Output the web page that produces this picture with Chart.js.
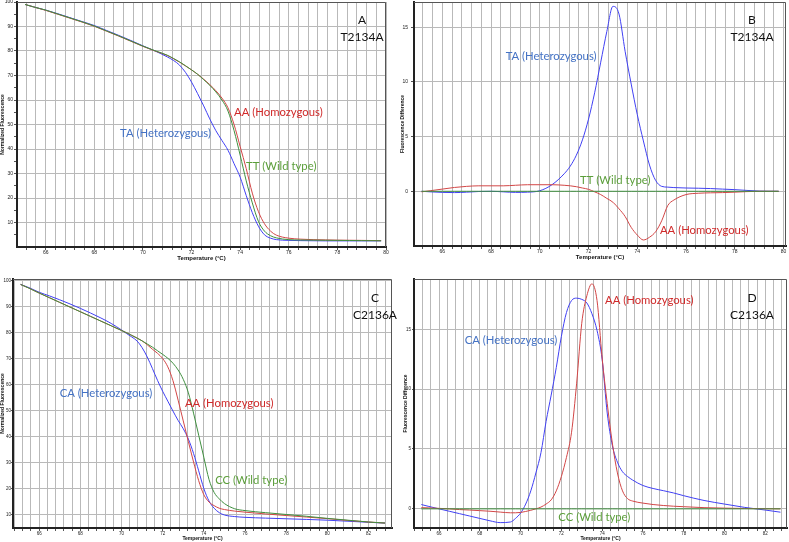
<!DOCTYPE html>
<html><head><meta charset="utf-8">
<script src="https://cdn.jsdelivr.net/npm/chart.js@4"></script>
<style>
html,body{margin:0;padding:0;background:#fff}
body{width:789px;height:542px;overflow:hidden;position:relative}
canvas{position:absolute}
</style></head><body>
<canvas id="cA" width="394" height="272" style="left:0px;top:-4px"></canvas>
<canvas id="cB" width="395" height="272" style="left:394px;top:-4px"></canvas>
<canvas id="cC" width="402" height="269" style="left:0px;top:273px"></canvas>
<canvas id="cD" width="395" height="269" style="left:394px;top:273px"></canvas>
<script>
// ---------- Panel A : T2134A normalized melt curves ----------
const tempA = [65.15,65.5,66,66.5,67,67.5,68,68.5,69,69.5,70,70.5,71,71.25,71.5,71.75,72,72.25,72.5,72.75,73,73.25,73.5,73.75,74,74.25,74.5,74.75,75,75.25,75.5,76,76.5,77,77.5,78,78.5,79,79.8];
const wildA = [99.0,98.0,96.7,95.1,93.5,91.9,90.2,88.2,86.2,84.1,82.0,80.1,78.3,77.0,75.6,74.0,72.3,70.5,68.3,66.0,63.3,60.0,55.5,47.5,37.5,27.0,18.0,10.5,6.5,4.6,3.7,3.0,2.85,2.8,2.75,2.7,2.65,2.6,2.55];
const homA  = [99.0,98.0,96.6,95.0,93.4,91.8,90.1,88.1,86.1,84.0,81.9,80.0,78.2,76.9,75.5,73.9,72.3,70.5,68.5,66.3,63.8,60.8,56.8,50.0,41.0,32.0,22.0,14.5,9.5,6.5,4.8,3.6,3.2,3.0,2.9,2.8,2.75,2.7,2.6];
const hetA  = [99.0,98.0,96.7,95.2,93.6,92.0,90.4,88.4,86.4,84.3,82.1,80.0,77.6,76.2,74.3,71.3,67.3,62.6,57.6,52.3,47.5,43.5,39.5,34.0,28.5,21.0,14.0,8.5,5.0,3.6,3.0,2.7,2.6,2.55,2.5,2.5,2.5,2.5,2.5];

// ---------- Panel B : T2134A difference plot ----------
const tempB = [65.15,65.5,66,66.5,67,67.5,68,68.5,69,69.5,70,70.5,71,71.25,71.5,71.75,72,72.25,72.5,72.75,73,73.25,73.5,73.75,74,74.25,74.5,74.75,75,75.25,75.5,76,76.5,77,77.5,78,78.5,79,79.8];
const wildB = [0,0,0,0,0,0,0,0,0,0,0,0,0,0,0,0,0,0,0,0,0,0,0,0,0,0,0,0,0,0,0,0,0,0,0,0,0,0,0];
const homB  = [-0.05,0.05,0.2,0.35,0.45,0.5,0.5,0.5,0.55,0.6,0.6,0.6,0.55,0.5,0.42,0.3,0.18,-0.05,-0.3,-0.65,-1.0,-1.6,-2.3,-3.3,-4.0,-4.45,-4.2,-3.7,-2.7,-1.3,-0.8,-0.3,-0.18,-0.14,-0.12,-0.08,-0.03,0,0];
const hetB  = [0,-0.05,-0.1,-0.12,-0.08,-0.02,0,-0.05,-0.1,-0.08,0.05,0.6,1.6,2.3,3.3,4.7,6.6,9.0,11.8,14.6,16.9,16.2,12.8,9.8,7.0,4.6,2.4,1.0,0.45,0.38,0.34,0.3,0.28,0.25,0.2,0.15,0.08,0.02,0];

// ---------- Panel C : C2136A normalized melt curves ----------
const tempC = [65.1,65.5,66,66.5,67,67.5,68,68.5,69,69.5,70,70.25,70.5,70.75,71,71.25,71.5,71.75,72,72.25,72.5,72.75,73,73.25,73.5,73.75,74,74.25,74.5,74.75,75,75.5,76,77,78,79,80,81,82,82.8];
const wildC = [98.5,97.1,95.2,93.4,91.6,89.8,88.0,86.2,84.4,82.6,80.8,79.9,78.9,77.9,76.8,75.6,74.4,73.0,71.6,70.1,68.2,65.6,62.0,56.8,49.0,40.5,32.0,23.5,18.5,16.0,14.2,12.2,11.5,10.7,10.0,9.3,8.5,7.8,7.1,6.7];
const homC  = [98.5,97.1,95.2,93.4,91.6,89.8,88.0,86.2,84.4,82.6,80.8,79.9,78.9,77.9,76.8,75.3,73.6,72.0,70.0,66.8,61.5,54.0,46.0,38.0,30.2,23.0,17.6,14.8,13.4,12.4,11.9,11.3,10.9,10.2,9.6,9.0,8.4,7.7,7.1,6.7];
const hetC  = [98.5,97.3,95.5,94.1,92.6,91.0,89.3,87.5,85.6,83.5,81.0,79.6,78.3,76.8,74.2,70.6,66.2,61.6,57.4,53.6,49.8,46.2,43.0,39.0,33.5,26.8,20.0,15.2,12.4,10.7,9.8,9.2,8.9,8.6,8.35,8.1,7.8,7.4,7.0,6.7];

// ---------- Panel D : C2136A difference plot ----------
const tempD = [65.13,65.5,66,66.5,67,67.5,68,68.5,69,69.5,69.75,70,70.25,70.5,70.75,71,71.25,71.5,71.75,72,72.25,72.5,72.75,73,73.25,73.5,73.75,74,74.25,74.5,74.75,75,75.25,75.5,76,76.5,77,77.5,78,79,80,81,82,82.75];
const wildD = [0,0,0,0,0,0,0,0,0,0,0,0,0,0,0,0,0,0,0,0,0,0,0,0,0,0,0,0,0,0,0,0,0,0,0,0,0,0,0,0,0,0,0,0];
const homD  = [0.1,0.08,0.04,0,-0.06,-0.1,-0.15,-0.2,-0.27,-0.33,-0.33,-0.3,-0.22,-0.12,0,0.15,0.4,0.75,1.5,2.7,4.3,6.4,10.5,15.5,17.8,18.8,17.4,12.6,8.8,5.5,3.0,1.5,0.85,0.65,0.48,0.36,0.28,0.22,0.18,0.1,0.06,0.03,0.01,0];
const hetD  = [0.36,0.2,0.0,-0.2,-0.4,-0.6,-0.8,-1.0,-1.15,-1.1,-0.8,-0.35,0.4,1.5,3.0,4.7,7.3,9.5,11.8,14.4,16.4,17.4,17.6,17.5,17.2,16.3,14.9,12.5,8.0,5.3,3.9,3.1,2.7,2.4,1.95,1.7,1.52,1.33,1.1,0.7,0.4,0.12,-0.1,-0.28];

// ---------- tick labels ----------
const yTicksNorm = [10,20,30,40,50,60,70,80,90,100];
const yTicksDiff = [0,5,10,15];
const xTickLabelsA = [66,68,70,72,74,76,78,80];
const xTickLabelsC = [66,68,70,72,74,76,78,80,82];

// ---------- label texts ----------
const notesA = [
  {text:'AA (Homozygous)', x:73.75, y:55.0, c:'red'},
  {text:'TA (Heterozygous)', x:69.06, y:46.3, c:'blue'},
  {text:'TT (Wild type)', x:74.24, y:32.8, c:'green'}];
const notesB = [
  {text:'TA (Heterozygous)', x:68.6, y:12.3, c:'blue'},
  {text:'TT (Wild type)', x:71.65, y:1.0, c:'green'},
  {text:'AA (Homozygous)', x:74.93, y:-3.55, c:'red'}];
const notesC = [
  {text:'CA (Heterozygous)', x:67.0, y:56.5, c:'blue'},
  {text:'AA (Homozygous)', x:73.08, y:52.9, c:'red'},
  {text:'CC (Wild type)', x:74.55, y:23.1, c:'green'}];
const notesD = [
  {text:'CA (Heterozygous)', x:67.26, y:14.1, c:'blue'},
  {text:'AA (Homozygous)', x:74.14, y:17.4, c:'red'},
  {text:'CC (Wild type)', x:71.85, y:-0.75, c:'green'}];

const LINE = {blue:'#4040f4', red:'#d24646', green:'#3f8f3f'};
const TEXT = {blue:'#4472C4', red:'#D02A2A', green:'#5B9E3A'};

function pts(xs, ys){ return xs.map((x,i)=>({x:x, y:ys[i]})); }

const panelPlugin = {
  id:'panelDeco',
  beforeDatasetsDraw(chart, args, o){
    const a = chart.chartArea, ctx = chart.ctx;
    ctx.save();
    ctx.strokeStyle = '#555'; ctx.lineWidth = 1;
    ctx.beginPath();
    ctx.moveTo(a.left, a.top + 0.5); ctx.lineTo(a.right - 0.5, a.top + 0.5); ctx.lineTo(a.right - 0.5, a.bottom);
    ctx.stroke();
    ctx.restore();
  },
  afterDatasetsDraw(chart, args, o){
    const ctx = chart.ctx, xs = chart.scales.x, ys = chart.scales.y;
    ctx.save();
    ctx.textBaseline = 'middle';
    ctx.font = '11.3px Lato';
    ctx.textAlign = 'left';
    for (const n of o.notes) {
      ctx.fillStyle = TEXT[n.c];
      ctx.fillText(n.text, xs.getPixelForValue(n.x), ys.getPixelForValue(n.y));
    }
    ctx.fillStyle = '#111';
    ctx.textAlign = 'center';
    ctx.font = '12px Lato';
    ctx.fillText(o.id, o.idX, o.idY);
    ctx.fillText(o.gene, o.idX, o.idY + 17);
    ctx.restore();
  }
};

function makePanel(canvasId, p){
  const isMajorY = v => p.yLabels.includes(v);
  const majorX = v => p.xLabels.some(t => Math.abs(t - v) < 1e-6);
  new Chart(document.getElementById(canvasId), {
    type:'line',
    data:{ datasets: p.series.map(s => ({
      data: pts(p.temps, s.v), borderColor: LINE[s.c], borderWidth: 1, pointRadius: 0,
      cubicInterpolationMode: 'monotone', fill: false })) },
    options:{
      responsive:false, animation:false, devicePixelRatio:1,
      layout:{ padding:{ top:6, left:0, right:p.padR, bottom:0 } },
      plugins:{ legend:{display:false}, tooltip:{enabled:false},
        panelDeco:{ notes:p.notes, id:p.id, gene:p.gene, idX:p.idX, idY:p.idY } },
      scales:{
        x:{ type:'linear', min:p.xMin, max:p.xMax,
          afterBuildTicks: s => { const t = []; for (let k = Math.ceil(p.xMin/0.4 - 1e-9); k*0.4 <= p.xMax + 1e-9; k++) t.push({value: Math.round(k*4)/10}); s.ticks = t; },
          ticks:{ autoSkip:false, maxRotation:0, padding:0, color:'#222', font:{size:p.tickFont, family:'Liberation Sans'},
            callback: v => majorX(v) ? String(Math.round(v)) : '' },
          grid:{ color:'#b9b9b9', lineWidth:1, tickLength:3, tickColor:'#555' },
          border:{ color:'#222', width:2 },
          title:{ display:true, text:'Temperature (°C)', color:'#111', font:{size:p.titleFont, weight:'bold', family:'Liberation Sans'}, padding:{top:0, bottom:p.xTitlePad} },
          afterFit: s => { s.height = p.xH; } },
        y:{ type:'linear', min:p.yMin, max:p.yMax,
          afterBuildTicks: s => { s.ticks = p.yAll.map(v => ({value:v})); },
          ticks:{ autoSkip:false, padding:p.yTickPad, color:'#222', font:{size:p.tickFont, family:'Liberation Sans'},
            callback: v => isMajorY(v) ? String(v) : '' },
          grid:{ color: c => (c.tick && isMajorY(c.tick.value)) ? '#b9b9b9' : 'rgba(0,0,0,0)', lineWidth:1, tickLength:p.yTickLen, tickColor:'#555' },
          border:{ color:'#222', width:2 },
          title:{ display:true, text:p.yTitle, color:'#111', font:{size:5, weight:'bold', family:'Liberation Sans'}, padding:{top:p.yTitlePad, bottom:0} },
          afterFit: s => { s.width = p.yW; } }
      }
    },
    plugins:[panelPlugin]
  });
}

makePanel('cA', { temps:tempA, series:[{v:wildA,c:'green'},{v:homA,c:'red'},{v:hetA,c:'blue'}],
  xMin:64.82, xMax:80.0, yMin:0, yMax:100, yLabels:yTicksNorm, yAll:[5,10,15,20,25,30,35,40,45,50,55,60,65,70,75,80,85,90,95,100],
  xLabels:xTickLabelsA, padR:8, xH:21, yW:17, tickFont:5, titleFont:6, xTitlePad:6, yTitle:'Normalized Fluorescence', yTitlePad:0,
  yTickPad:1, yTickLen:3, notes:notesA, id:'A', gene:'T2134A', idX:362, idY:24 });

makePanel('cB', { temps:tempB, series:[{v:wildB,c:'green'},{v:homB,c:'red'},{v:hetB,c:'blue'}],
  xMin:64.84, xMax:80.1, yMin:-5, yMax:17.3, yLabels:yTicksDiff, yAll:yTicksDiff,
  xLabels:xTickLabelsA, padR:3, xH:22, yW:20, tickFont:5, titleFont:6, xTitlePad:7, yTitle:'Fluorescence Difference', yTitlePad:6,
  yTickPad:3, yTickLen:3, notes:notesB, id:'B', gene:'T2134A', idX:358, idY:24 });

makePanel('cC', { temps:tempC, series:[{v:wildC,c:'green'},{v:homC,c:'red'},{v:hetC,c:'blue'}],
  xMin:64.73, xMax:83.14, yMin:4.8, yMax:100.6, yLabels:yTicksNorm, yAll:[10,20,30,40,50,60,70,80,90,100],
  xLabels:xTickLabelsC, padR:10, xH:14, yW:13, tickFont:4.5, titleFont:5, xTitlePad:0, yTitle:'Normalized Fluorescence', yTitlePad:0,
  yTickPad:0, yTickLen:2, notes:notesC, id:'C', gene:'C2136A', idX:375, idY:25 });

makePanel('cD', { temps:tempD, series:[{v:wildD,c:'green'},{v:homD,c:'red'},{v:hetD,c:'blue'}],
  xMin:64.77, xMax:83.07, yMin:-1.6, yMax:19.2, yLabels:yTicksDiff, yAll:yTicksDiff,
  xLabels:xTickLabelsC, padR:2, xH:14, yW:20, tickFont:4.5, titleFont:5, xTitlePad:0, yTitle:'Fluorescence Difference', yTitlePad:9,
  yTickPad:1, yTickLen:2, notes:notesD, id:'D', gene:'C2136A', idX:358, idY:25 });
</script>
</body></html>
